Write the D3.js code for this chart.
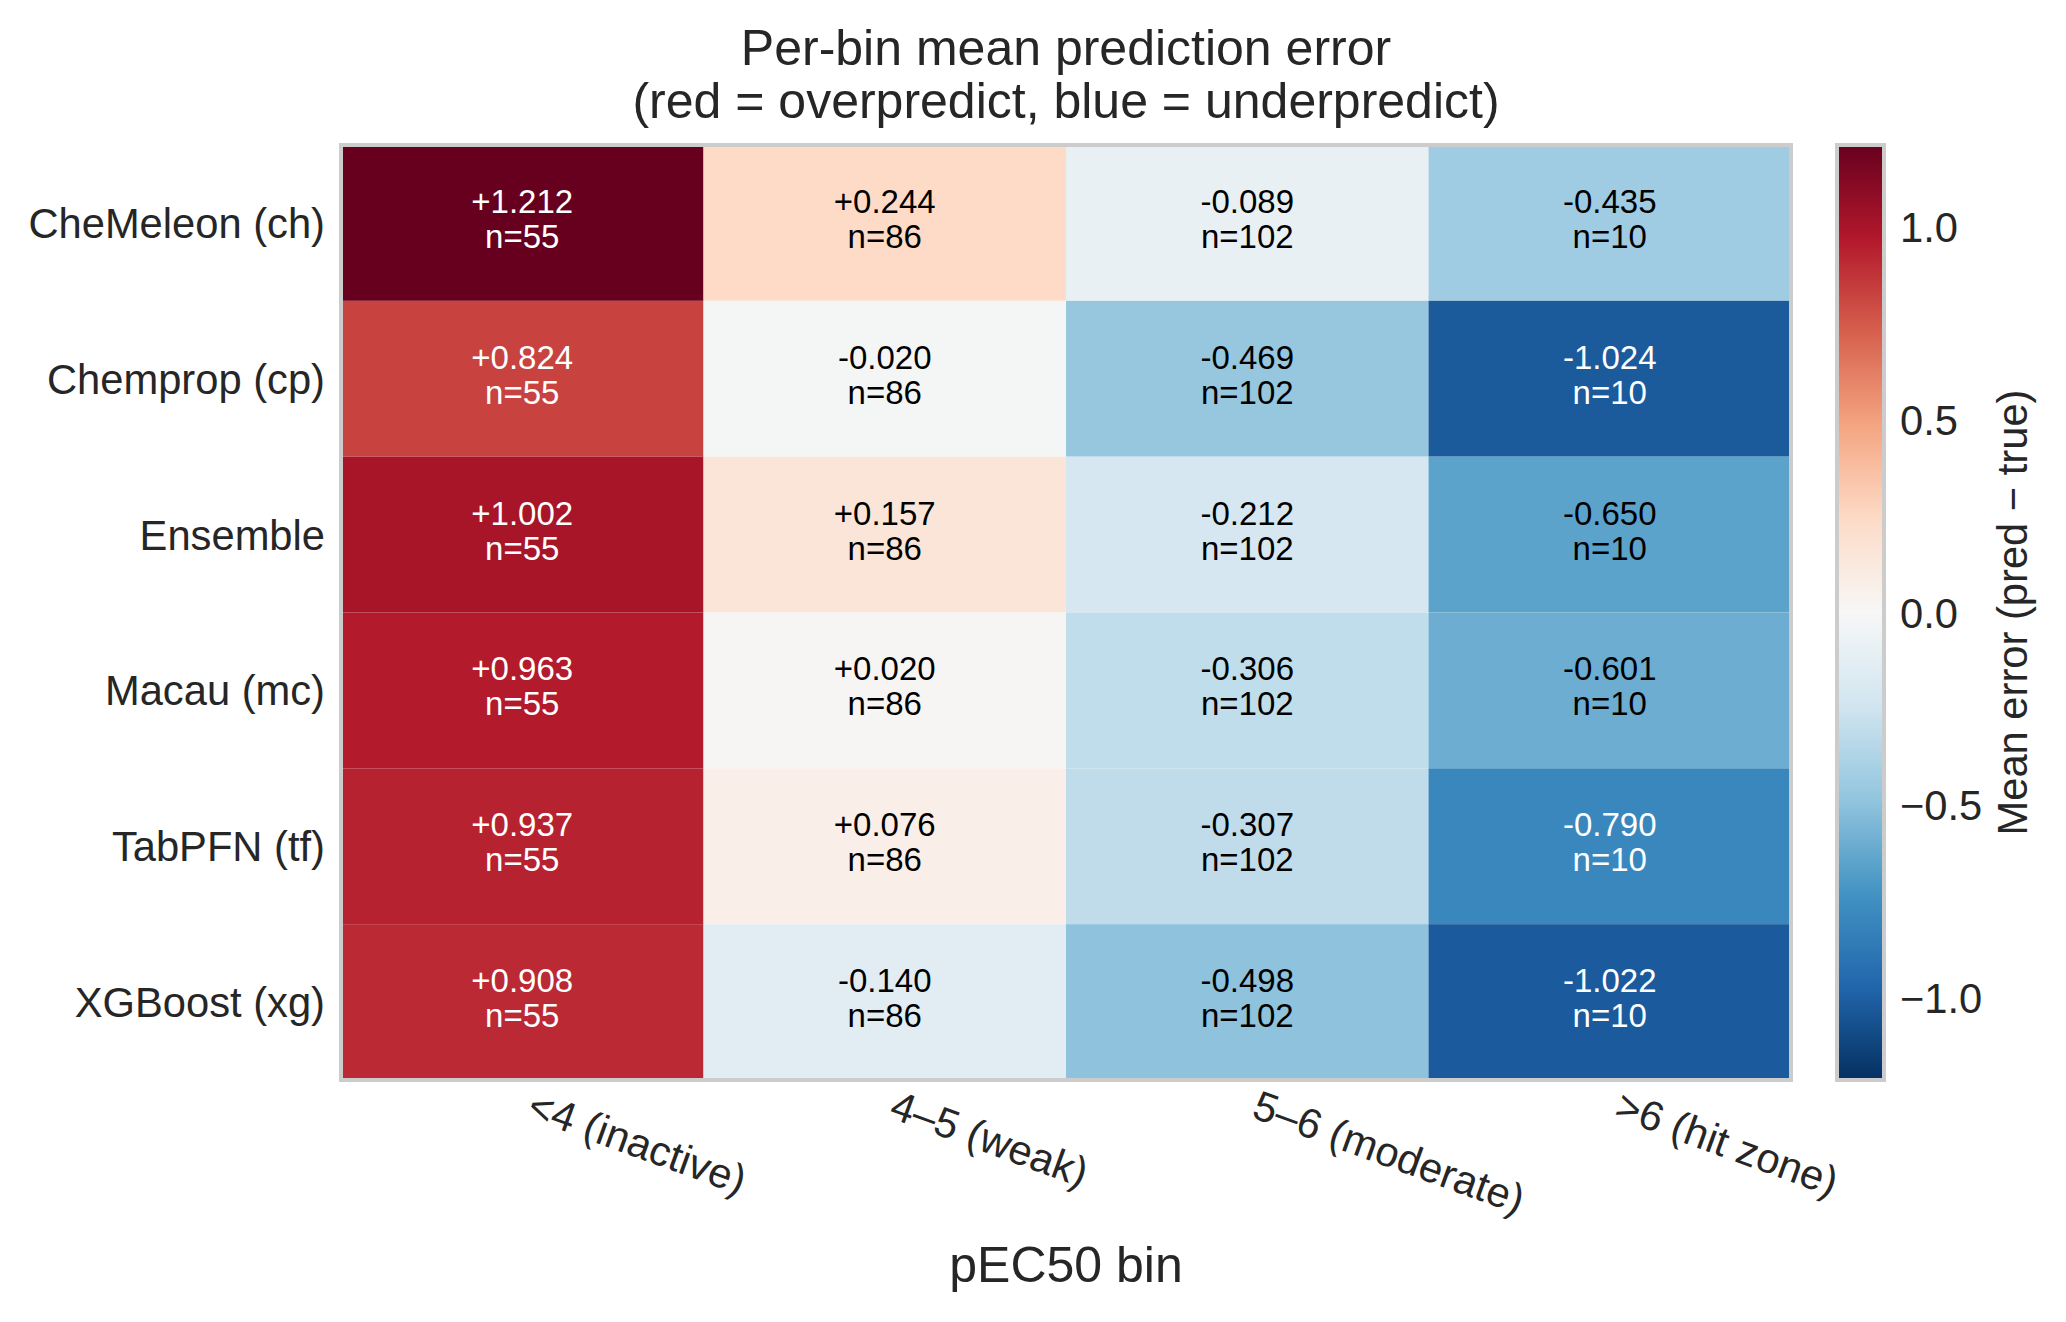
<!DOCTYPE html>
<html>
<head>
<meta charset="utf-8">
<script src="https://cdn.jsdelivr.net/npm/d3@7"></script>
<style>
  body { margin: 0; background: #fff; }
  text { font-family: "Liberation Sans", Arial, sans-serif; }
</style>
</head>
<body>
<script>
const w = 2066;
const h = 1322;
const plot = { left: 341, right: 1791, top: 145, bottom: 1080 };
const cbar = { left: 1837, right: 1884 };

// data
const models = ['CheMeleon (ch)', 'Chemprop (cp)', 'Ensemble', 'Macau (mc)', 'TabPFN (tf)', 'XGBoost (xg)'];
const bins = ['<4 (inactive)', '4–5 (weak)', '5–6 (moderate)', '>6 (hit zone)'];
const binCounts = [55, 86, 102, 10];
const meanErr = [
  [1.212, 0.244, -0.089, -0.435],
  [0.824, -0.020, -0.469, -1.024],
  [1.002, 0.157, -0.212, -0.650],
  [0.963, 0.020, -0.306, -0.601],
  [0.937, 0.076, -0.307, -0.790],
  [0.908, -0.140, -0.498, -1.022]
];
const cbarTicks = [-1.0, -0.5, 0.0, 0.5, 1.0];

// matplotlib RdBu_r nodes (blue -> red)
const rdbu = ['#053061', '#2166ac', '#4393c3', '#92c5de', '#d1e5f0', '#f7f7f7',
  '#fddbc7', '#f4a582', '#d6604d', '#b2182b', '#67001f'];

const vmax = d3.max(meanErr.flat(), (d) => Math.abs(d));
const color = d3.scaleLinear()
  .domain(rdbu.map((c, i) => -vmax + i * 2 * vmax / (rdbu.length - 1)))
  .range(rdbu)
  .interpolate(d3.interpolateRgb);

const x = d3.scaleBand().domain(bins).range([plot.left, plot.right]);
const y = d3.scaleBand().domain(models).range([plot.top, plot.bottom]);

const svg = d3.select('body').append('svg')
  .attr('width', w)
  .attr('height', h);

const cells = [];
meanErr.forEach((row, i) => row.forEach((v, j) => cells.push({ model: models[i], bin: bins[j], v: v, n: binCounts[j] })));

svg.append('g')
  .selectAll('rect')
  .data(cells)
  .enter()
  .append('rect')
  .attr('x', (d) => x(d.bin))
  .attr('y', (d) => y(d.model))
  .attr('width', x.bandwidth())
  .attr('height', y.bandwidth())
  .attr('fill', (d) => color(d.v));

const fmt = (v) => (v >= 0 ? '+' : '-') + Math.abs(v).toFixed(3);
const labels = svg.append('g')
  .selectAll('text')
  .data(cells)
  .enter()
  .append('text')
  .attr('text-anchor', 'middle')
  .attr('x', (d) => x(d.bin) + x.bandwidth() / 2)
  .attr('y', (d) => y(d.model) + y.bandwidth() / 2)
  .style('font-size', '33px')
  .attr('fill', (d) => Math.abs(d.v) > 0.6 * vmax ? '#ffffff' : '#000000');
labels.append('tspan')
  .attr('x', (d) => x(d.bin) + x.bandwidth() / 2)
  .attr('dy', -10)
  .text((d) => fmt(d.v));
labels.append('tspan')
  .attr('x', (d) => x(d.bin) + x.bandwidth() / 2)
  .attr('dy', 35)
  .text((d) => 'n=' + d.n);

// frame
svg.append('rect')
  .attr('x', plot.left)
  .attr('y', plot.top)
  .attr('width', plot.right - plot.left)
  .attr('height', plot.bottom - plot.top)
  .attr('fill', 'none')
  .attr('stroke', '#cccccc')
  .attr('stroke-width', 4);

// y tick labels
svg.append('g')
  .selectAll('text')
  .data(models)
  .enter()
  .append('text')
  .attr('text-anchor', 'end')
  .attr('x', plot.left - 16)
  .attr('y', (d) => y(d) + y.bandwidth() / 2 + 15)
  .attr('fill', '#262626')
  .style('font-size', '41.7px')
  .text((d) => d);

// x tick labels (rotated)
const rot = 20;
svg.append('g')
  .selectAll('text')
  .data(bins)
  .enter()
  .append('text')
  .attr('text-anchor', 'start')
  .attr('transform', (d) => `translate(${x(d) + x.bandwidth() / 2 + 3}, ${plot.bottom + 37}) rotate(${rot})`)
  .attr('fill', '#262626')
  .style('font-size', '41.7px')
  .text((d) => d);

svg.append('text')
  .attr('text-anchor', 'middle')
  .attr('x', (plot.left + plot.right) / 2)
  .attr('y', 1282)
  .attr('fill', '#262626')
  .style('font-size', '50px')
  .text('pEC50 bin');

// title
const title = svg.append('text')
  .attr('text-anchor', 'middle')
  .attr('fill', '#262626')
  .style('font-size', '50px');
title.append('tspan')
  .attr('x', (plot.left + plot.right) / 2)
  .attr('y', 65)
  .text('Per-bin mean prediction error');
title.append('tspan')
  .attr('x', (plot.left + plot.right) / 2)
  .attr('y', 118)
  .text('(red = overpredict, blue = underpredict)');

// colorbar
const cy = d3.scaleLinear().domain([-vmax, vmax]).range([plot.bottom, plot.top]);
const grad = svg.append('defs').append('linearGradient')
  .attr('id', 'cbgrad')
  .attr('x1', 0).attr('y1', 1).attr('x2', 0).attr('y2', 0);
grad.selectAll('stop')
  .data(rdbu)
  .enter()
  .append('stop')
  .attr('offset', (d, i) => i / (rdbu.length - 1))
  .attr('stop-color', (d) => d);

svg.append('rect')
  .attr('x', cbar.left)
  .attr('y', cy(vmax))
  .attr('width', cbar.right - cbar.left)
  .attr('height', cy(-vmax) - cy(vmax))
  .attr('fill', 'url(#cbgrad)')
  .attr('stroke', '#cccccc')
  .attr('stroke-width', 4);

svg.append('g')
  .selectAll('text')
  .data(cbarTicks)
  .enter()
  .append('text')
  .attr('x', cbar.right + 16)
  .attr('y', (d) => cy(d) + 15)
  .attr('fill', '#262626')
  .style('font-size', '41.7px')
  .text((d) => d3.format('.1f')(d));

svg.append('text')
  .attr('text-anchor', 'middle')
  .attr('transform', `translate(2027, ${(plot.top + plot.bottom) / 2}) rotate(-90)`)
  .attr('fill', '#262626')
  .style('font-size', '41.7px')
  .text('Mean error (pred − true)');
</script>
</body>
</html>
